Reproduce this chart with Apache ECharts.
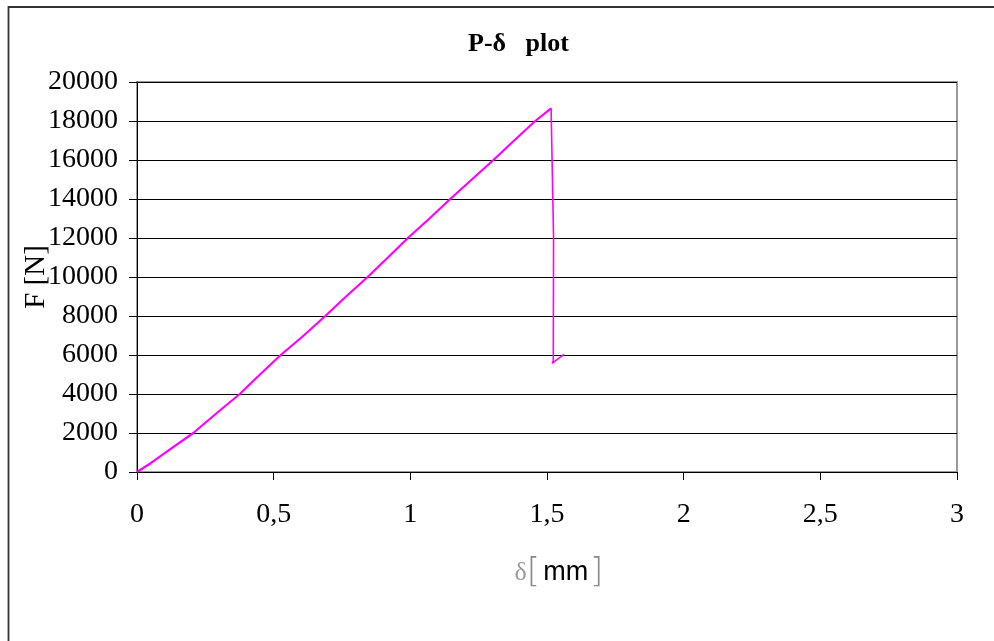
<!DOCTYPE html>
<html>
<head>
<meta charset="utf-8">
<title>P-δ plot</title>
<script src="https://cdn.jsdelivr.net/npm/echarts@6/dist/echarts.min.js"></script>
<style>
  html, body { margin: 0; padding: 0; background: #fff; }
  #chart { width: 994px; height: 641px; }
</style>
</head>
<body>
<div id="chart"></div>
<script>
// Load branch: displacement δ [mm] and force F [N]
const riseDelta = [0, 0.05, 0.10, 0.206, 0.29, 0.376, 0.45, 0.526, 0.61, 0.689, 0.765, 0.844, 0.918, 0.991, 1.07, 1.146, 1.225, 1.304, 1.38, 1.457, 1.515];
const riseForce = [0, 450, 950, 2000, 3000, 4000, 5000, 6000, 7000, 8000, 9000, 10000, 11000, 12000, 13000, 14000, 15000, 16000, 17000, 18000, 18650];

// Fracture and residual branch
const dropDelta = [1.515, 1.524, 1.523, 1.519, 1.535, 1.563];
const dropForce = [18650, 12000, 5700, 5570, 5750, 6030];

// Axis ticks
const xTicks = [0, 0.5, 1, 1.5, 2, 2.5, 3];
const yTicks = [0, 2000, 4000, 6000, 8000, 10000, 12000, 14000, 16000, 18000, 20000];

const zip = (xs, ys) => xs.map((x, i) => [x, ys[i]]);
const serif = '"Liberation Serif", "Times New Roman", serif';

const chart = echarts.init(document.getElementById('chart'));
chart.setOption({
  animation: false,
  backgroundColor: '#fff',
  grid: {
    left: 137, right: 37, top: 82, bottom: 169,
    show: true, borderColor: '#999', borderWidth: 2, backgroundColor: 'transparent'
  },
  xAxis: {
    type: 'value',
    min: xTicks[0], max: xTicks[xTicks.length - 1], interval: 0.5,
    axisLine: { show: true, onZero: false, lineStyle: { color: '#000', width: 1 } },
    axisTick: { show: true, length: 8, lineStyle: { color: '#000' } },
    splitLine: { show: false },
    axisLabel: {
      margin: 29, color: '#000', fontFamily: serif, fontSize: 28,
      formatter: v => String(v).replace('.', ',')
    },
    name: '{d|δ}{b|[}{m|mm}{b|]}',
    nameLocation: 'middle',
    nameGap: 84,
    nameMoveOverlap: false,
    nameTextStyle: {
      padding: [0, 0, 0, 16],
      rich: {
        d: { fontFamily: serif, fontSize: 26, color: '#999', padding: [0, 0, 0, 8] },
        b: { fontFamily: '"DejaVu Sans", sans-serif', fontSize: 34, fontWeight: 200, color: '#888' },
        m: { fontFamily: '"Liberation Sans", Arial, sans-serif', fontSize: 27, color: '#000', padding: [0, 2, 0, 3] }
      }
    }
  },
  yAxis: {
    type: 'value',
    min: yTicks[0], max: yTicks[yTicks.length - 1], interval: 2000,
    axisLine: { show: true, lineStyle: { color: '#000', width: 1 } },
    axisTick: { show: true, length: 8, lineStyle: { color: '#000' } },
    splitLine: { show: true, lineStyle: { color: '#000', width: 1 } },
    axisLabel: {
      margin: 19, color: '#000', fontFamily: serif, fontSize: 28,
      formatter: v => String(v)
    },
    name: 'F [N]',
    nameLocation: 'middle',
    nameGap: 86,
    nameRotate: 90,
    nameMoveOverlap: false,
    nameTextStyle: { fontFamily: serif, fontSize: 29, color: '#000' }
  },
  series: [
    {
      type: 'line', data: zip(riseDelta, riseForce),
      showSymbol: false, lineStyle: { color: '#ff00ff', width: 2.2 }, z: 5
    },
    {
      type: 'line', data: zip(dropDelta, dropForce),
      showSymbol: false, lineStyle: { color: '#ff00ff', width: 1.6 }, z: 5
    }
  ],
  graphic: [
    {
      type: 'polyline', silent: true,
      shape: { points: [[8.5, 660], [8.5, 7], [1000, 7]] },
      style: { stroke: '#333', lineWidth: 1.8, fill: null }
    },
    {
      type: 'text', left: 468, top: 31,
      style: { text: 'P-δ   plot', fontFamily: serif, fontWeight: 'bold', fontSize: 26, fill: '#000' }
    }
  ]
});
</script>
</body>
</html>
